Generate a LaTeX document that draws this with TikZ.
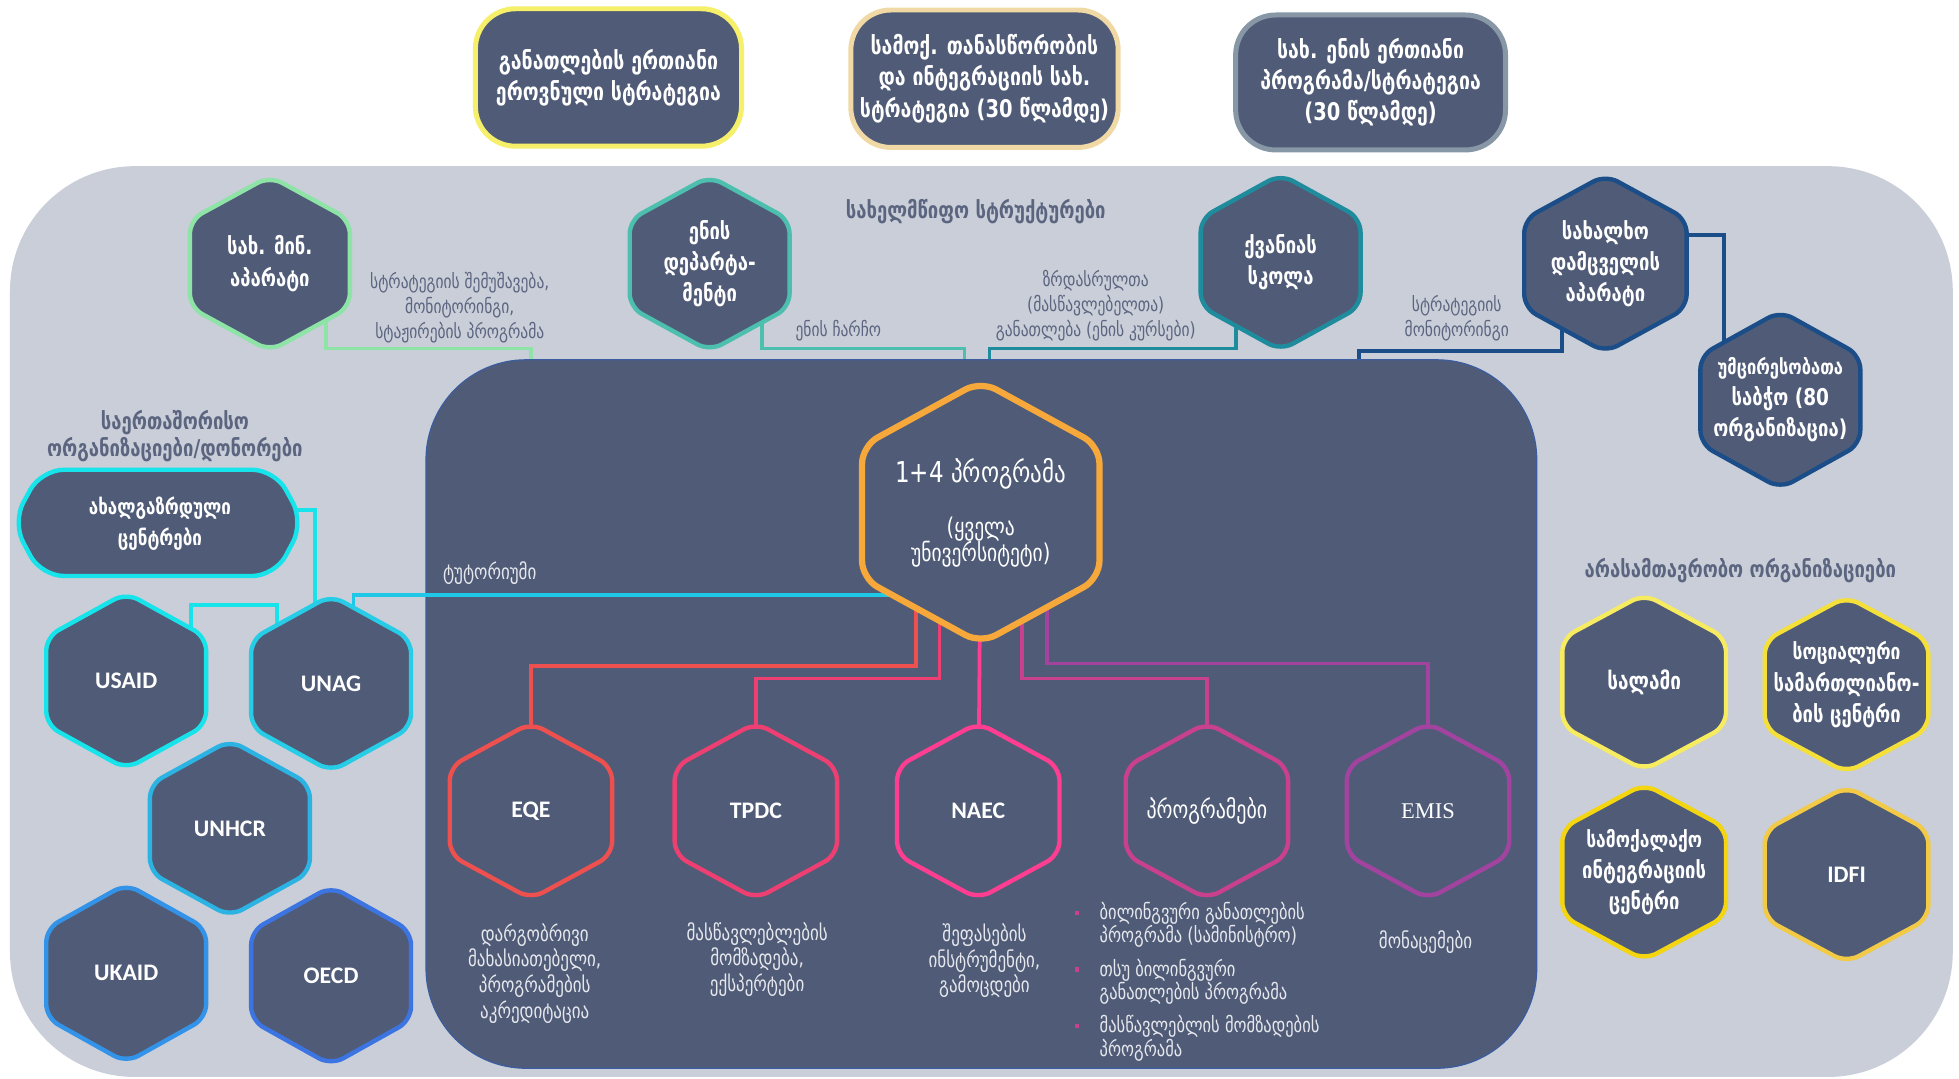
\documentclass[tikz,border=0pt]{standalone}
\usepackage{fontspec}
\setmainfont{DejaVu Sans}[FakeStretch=0.8]
\newfontfamily\carl{Carlito}
\newfontfamily\tnr{Liberation Serif}
\newcommand{\latbf}{\carl\bfseries\fontsize{19}{22}\selectfont}
\usetikzlibrary{calc}
\pgfdeclarelayer{panels}
\pgfdeclarelayer{conns}
\pgfsetlayers{panels,conns,main}

\definecolor{darkfill}{HTML}{505C77}
\definecolor{lightpanel}{HTML}{C9CED8}
\definecolor{labelgray}{HTML}{5B6580}
\definecolor{lighttext}{HTML}{E6E8EE}
\definecolor{panelborder}{HTML}{3B5C9E}
\definecolor{cYellowA}{HTML}{F5EF6A}
\definecolor{cPeach}{HTML}{F1D9A6}
\definecolor{cSlate}{HTML}{8797A6}
\definecolor{cGreen}{HTML}{8EE3A7}
\definecolor{cTeal}{HTML}{4DBFAE}
\definecolor{cDTeal}{HTML}{1E8C9C}
\definecolor{cNavy}{HTML}{1B4E88}
\definecolor{cCyan}{HTML}{16E3EA}
\definecolor{cCyanB}{HTML}{27CDE6}
\definecolor{cSky}{HTML}{2BB3E3}
\definecolor{cBlue}{HTML}{3293E8}
\definecolor{cRoyal}{HTML}{3C74E2}
\definecolor{cTut}{HTML}{1EC8E6}
\definecolor{cOrange}{HTML}{F6A83B}
\definecolor{cRed}{HTML}{EE5050}
\definecolor{cRose}{HTML}{EE3F72}
\definecolor{cPink}{HTML}{FF3D91}
\definecolor{cMagenta}{HTML}{C9408D}
\definecolor{cPurple}{HTML}{A343A0}
\definecolor{cY1}{HTML}{F7EB60}
\definecolor{cY2}{HTML}{F5E03A}
\definecolor{cY3}{HTML}{F3D510}
\definecolor{cY4}{HTML}{F3CA45}

\tikzset{
  hexbox/.style={fill=darkfill, line width=3.5pt, rounded corners=11pt},
  hextext/.style={text=white, font=\bfseries\fontsize{18.5}{25}\selectfont, align=center, inner sep=0pt},
  topbox/.style={fill=darkfill, line width=4pt, rounded corners=32pt, inner sep=0pt, text=white, align=center, font=\bfseries\fontsize{19.5}{25}\selectfont},
  conn/.style={line width=3pt},
  graylabel/.style={text=labelgray, align=center, font=\fontsize{15.5}{20}\selectfont, inner sep=0pt},
  headlabel/.style={text=labelgray, align=center, font=\bfseries\fontsize{18.5}{22}\selectfont, inner sep=0pt},
  desclabel/.style={text=lighttext, align=center, font=\fontsize{17}{20.6}\selectfont, inner sep=0pt},
  listitem/.style={text=lighttext, align=left, anchor=west, font=\fontsize{16.5}{18.5}\selectfont, inner sep=0pt},
  bulletmark/.style={fill=cMagenta, minimum size=3.5pt, inner sep=0pt},
}

% vertical hexagon: name, x, y, w, h, colour, text
\newcommand{\vhex}[7]{%
  \path[hexbox,draw=#6] (#2+#4/2,#3) -- (#2+#4/2,#3+#5/4) -- (#2,#3+#5/2)
    -- (#2-#4/2,#3+#5/4) -- (#2-#4/2,#3-#5/4) -- (#2,#3-#5/2)
    -- (#2+#4/2,#3-#5/4) -- cycle;
  \node[hextext] (#1) at (#2,#3) {#7};}

\begin{document}
\begin{tikzpicture}[x=1pt,y=-1pt]
\useasboundingbox (0,0) rectangle (1568,863);

\begin{pgfonlayer}{panels}
  \fill[white] (0,0) rectangle (1568,863);
  \node[fill=lightpanel, rounded corners=100pt, minimum width=1555pt, minimum height=729pt, inner sep=0pt] (gpanel) at (785.5,497.5) {};
  \node[fill=darkfill, draw=panelborder, line width=1pt, rounded corners=80pt, minimum width=889pt, minimum height=567pt, inner sep=0pt] (dpanel) at (785.5,571.5) {};
\end{pgfonlayer}

% top strategy boxes
\node[topbox, draw=cYellowA, minimum width=213pt, minimum height=110pt] (b1) at (487,62)
  {განათლების ერთიანი\\ეროვნული სტრატეგია};
\node[topbox, draw=cPeach, minimum width=214pt, minimum height=110pt] (b2) at (788,63)
  {სამოქ. თანასწორობის\\და ინტეგრაციის  სახ.\\სტრატეგია (30 წლამდე)};
\node[topbox, draw=cSlate, minimum width=216pt, minimum height=108pt] (b3) at (1097,66)
  {სახ. ენის ერთიანი\\პროგრამა/სტრატეგია\\(30 წლამდე)};

% headings
\node[headlabel] (hState) at (781,169) {სახელმწიფო სტრუქტურები};
\node[headlabel] (hIntl) at (140,349) {საერთაშორისო\\ორგანიზაციები/დონორები};
\node[headlabel] (hNgo) at (1393,457) {არასამთავრობო ორგანიზაციები};

% state structures
\vhex{hmin}{216}{211}{128}{140}{cGreen}{სახ. მინ.\\აპარატი}
\vhex{hlang}{568}{211}{128}{140}{cTeal}{ენის\\დეპარტა-\\მენტი}
\vhex{hkv}{1025}{210}{128}{141}{cDTeal}{ქვანიას\\სკოლა}
\vhex{hombud}{1285}{211}{130}{142}{cNavy}{სახალხო\\დამცველის\\აპარატი}
\vhex{hcouncil}{1425}{320}{128}{142}{cNavy}{\fontsize{16.5}{23}\selectfont უმცირესობათა\\საბჭო (80\\ორგანიზაცია)}

\node[graylabel] (lMin) at (368,246) {სტრატეგიის შემუშავება,\\მონიტორინგი,\\სტაჟირების პროგრამა};
\node[graylabel] (lLang) at (671,265) {ენის ჩარჩო};
\node[graylabel] (lKv) at (877,245) {ზრდასრულთა\\(მასწავლებელთა)\\განათლება (ენის კურსები)};
\node[graylabel] (lOmb) at (1166,255) {სტრატეგიის\\მონიტორინგი};

% international organisations
\path[hexbox, draw=cCyan, rounded corners=18pt] (243,418) -- (220,461) -- (33,461) -- (10,418) -- (33,376) -- (220,376) -- cycle;
\node[hextext, font=\bfseries\fontsize{17}{25}\selectfont] (ax) at (128,419) {ახალგაზრდული\\ცენტრები};
\vhex{usaid}{101}{545}{128}{141}{cCyan}{\latbf USAID}
\vhex{unag}{265}{547}{128}{141}{cCyanB}{\latbf UNAG}
\vhex{unhcr}{184}{663}{128}{141}{cSky}{\latbf UNHCR}
\vhex{ukaid}{101}{779}{128}{143}{cBlue}{\latbf UKAID}
\vhex{oecd}{265}{781}{128}{143}{cRoyal}{\latbf OECD}

% central programme
\path[hexbox, draw=cOrange, line width=5pt, rounded corners=14pt] (880,410) -- (880,463) -- (785,515) -- (690,463) -- (690,357) -- (785,305) -- (880,357) -- cycle;
\node[inner sep=0pt] (p14) at (785,410) {};
\node[text=white, inner sep=0pt, font=\fontsize{23}{26}\selectfont] (p14a) at (785,379) {1+4 პროგრამა};
\node[text=white, align=center, inner sep=0pt, font=\fontsize{19.5}{21}\selectfont] (p14b) at (785,434) {(ყველა\\უნივერსიტეტი)};

% agencies
\vhex{eqe}{425}{649}{130}{141}{cRed}{\latbf EQE}
\vhex{tpdc}{605}{649}{130}{141}{cRose}{\latbf TPDC}
\vhex{naec}{783}{649}{130}{141}{cPink}{\latbf NAEC}
\vhex{progs}{966}{649}{130}{141}{cMagenta}{\mdseries\fontsize{20}{22}\selectfont პროგრამები}
\vhex{emis}{1143}{649}{130}{141}{cPurple}{\tnr\mdseries\fontsize{18}{20}\selectfont EMIS}

\node[desclabel] (dEqe) at (428,779) {დარგობრივი\\მახასიათებელი,\\პროგრამების\\აკრედიტაცია};
\node[desclabel] (dTpdc) at (606,768) {მასწავლებლების\\მომზადება,\\ექსპერტები};
\node[desclabel] (dNaec) at (788,769) {შეფასების\\ინსტრუმენტი,\\გამოცდები};
\node[desclabel] (dEmis) at (1141,754) {მონაცემები};
\node[bulletmark] (bu1) at (862,731) {};
\node[bulletmark] (bu2) at (862,776) {};
\node[bulletmark] (bu3) at (862,821) {};
\node[listitem] (li1) at (880,740) {ბილინგვური განათლების\\პროგრამა (სამინისტრო)};
\node[listitem] (li2) at (880,786) {თსუ ბილინგვური\\განათლების პროგრამა};
\node[listitem] (li3) at (880,831) {მასწავლებლის მომზადების\\პროგრამა};

% NGOs
\vhex{salami}{1316}{546}{131}{141}{cY1}{\fontsize{19}{22}\selectfont სალამი}
\vhex{social}{1478}{548}{131}{141}{cY2}{\fontsize{17.5}{20}\selectfont სოციალური\\სამართლიანო-\\ბის ცენტრი}
\vhex{civil}{1316}{698}{131}{141}{cY3}{\fontsize{17.5}{20}\selectfont სამოქალაქო\\ინტეგრაციის\\ცენტრი}
\vhex{idfi}{1478}{700}{131}{141}{cY4}{\latbf IDFI}

\node[desclabel] (lTut) at (392,459) {ტუტორიუმი};

% connectors
\begin{pgfonlayer}{conns}
  \draw[conn, cGreen] ($(hmin)+(45,0)$) |- (425,279) -- (425,0 |- dpanel.north);
  \draw[conn, cTeal] ($(hlang)+(42,0)$) |- (772,279) -- (772,0 |- dpanel.north);
  \draw[conn, cDTeal] ($(hkv)+(-36,0)$) |- (792,279) -- (792,0 |- dpanel.north);
  \draw[conn, cNavy] ($(hombud)+(-35,0)$) |- (1088,281) -- (1088,0 |- dpanel.north);
  \draw[conn, cNavy] ($(hombud)+(0,-23)$) -| ($(hcouncil)+(-45,0)$);
  \draw[conn, cCyan] ($(ax)+(0,-11)$) -| ($(unag)+(-13,0)$);
  \draw[conn, cCyan] ($(usaid)+(52,0)$) |- ($(unag)+(-43,-63)$) -- ($(unag)+(-43,0)$);
  \draw[conn, cTut] ($(unag)+(18,0)$) |- ($(p14)+(0,66)$);
  \draw[conn, cRed] ($(p14)+(-52,0)$) |- ($(eqe)+(0,-116)$) -- (eqe);
  \draw[conn, cRose] ($(p14)+(-33,0)$) |- ($(tpdc)+(0,-106)$) -- (tpdc);
  \draw[conn, cPink] (p14) -- (naec);
  \draw[conn, cMagenta] ($(p14)+(33,0)$) |- ($(progs)+(0,-106)$) -- (progs);
  \draw[conn, cPurple] ($(p14)+(53,0)$) |- ($(emis)+(0,-118)$) -- (emis);
\end{pgfonlayer}
\end{tikzpicture}
\end{document}
